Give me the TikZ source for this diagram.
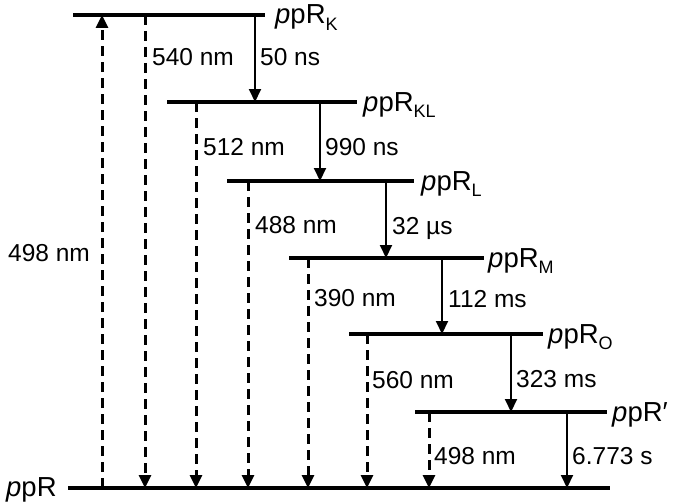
\documentclass[tikz,border=0pt]{standalone}
\usepackage{fontspec}
\setmainfont{Liberation Sans}
\usetikzlibrary{arrows.meta}
\newcommand\lvsub[1]{\raisebox{-6pt}{\fontsize{18}{18}\selectfont #1}}
\begin{document}
\begin{tikzpicture}[x=1pt,y=-1pt,
  lvl/.style={line width=3.4pt},
  sarr/.style={line width=2pt,-{Triangle[width=12pt,length=13pt]}},
  darr/.style={line width=3pt,dash pattern=on 10pt off 6pt,-{Triangle[width=12pt,length=13pt]}},
  lab/.style={anchor=base west,inner sep=0pt,font=\fontsize{24.5}{25}\selectfont},
  st/.style={anchor=base west,inner sep=0pt,font=\fontsize{27.5}{28}\selectfont}]
\useasboundingbox (0,0) rectangle (674,503);
% levels
\coordinate (K1) at (73,15);   \coordinate (K2) at (265,15);
\coordinate (KL1) at (167,102); \coordinate (KL2) at (357,102);
\coordinate (L1) at (227,181); \coordinate (L2) at (414,181);
\coordinate (M1) at (289,258); \coordinate (M2) at (484,258);
\coordinate (O1) at (349,334); \coordinate (O2) at (543,334);
\coordinate (P1) at (415,412); \coordinate (P2) at (607,412);
\coordinate (G1) at (68,488);  \coordinate (G2) at (610,488);
\foreach \a/\b in {K1/K2,KL1/KL2,L1/L2,M1/M2,O1/O2,P1/P2,G1/G2}
  \draw[lvl] (\a) -- (\b);
% state labels
\node[st] (sK) at (275,24) {\textit{p}pR\lvsub{K}};
\node[st] (sKL) at (363,111) {\textit{p}pR\lvsub{KL}};
\node[st] (sL) at (421,190) {\textit{p}pR\lvsub{L}};
\node[st] (sM) at (488,267) {\textit{p}pR\lvsub{M}};
\node[st] (sO) at (548,343) {\textit{p}pR\lvsub{O}};
\node[st] (sP) at (612,421) {\textit{p}pR′};
\node[st] (sG) at (6,496) {\textit{p}pR};
% arrow end points
\coordinate (a0t) at (102,15);  \coordinate (a0b) at (102,488);
\coordinate (a1t) at (145,15);  \coordinate (a1b) at (145,488);
\coordinate (a2t) at (196,102); \coordinate (a2b) at (196,488);
\coordinate (a3t) at (248,181); \coordinate (a3b) at (248,488);
\coordinate (a4t) at (308,258); \coordinate (a4b) at (308,488);
\coordinate (a5t) at (367,334); \coordinate (a5b) at (367,488);
\coordinate (a6t) at (429,412); \coordinate (a6b) at (429,488);
\coordinate (s1t) at (255,15);  \coordinate (s1b) at (255,102);
\coordinate (s2t) at (320,102); \coordinate (s2b) at (320,181);
\coordinate (s3t) at (386,181); \coordinate (s3b) at (386,258);
\coordinate (s4t) at (442,258); \coordinate (s4b) at (442,334);
\coordinate (s5t) at (511,334); \coordinate (s5b) at (511,412);
\coordinate (s6t) at (567,412); \coordinate (s6b) at (567,488);
% dashed (light) arrows
\draw[darr] (a0b) -- (a0t);
\foreach \i in {1,...,6} \draw[darr] (a\i t) -- (a\i b);
% solid (thermal) arrows
\foreach \i in {1,...,6} \draw[sarr] (s\i t) -- (s\i b);
% labels
\node[lab] (l0) at (8,261) {498 nm};
\node[lab] (l1) at (152,65.5) {540 nm};
\node[lab] (t1) at (260,65.5) {50 ns};
\node[lab] (l2) at (203,155) {512 nm};
\node[lab] (t2) at (325,155) {990 ns};
\node[lab] (l3) at (255,233) {488 nm};
\node[lab] (t3) at (392,234) {32 µs};
\node[lab] (l4) at (314,306) {390 nm};
\node[lab] (t4) at (448,307) {112 ms};
\node[lab] (l5) at (372,388) {560 nm};
\node[lab] (t5) at (516,387) {323 ms};
\node[lab] (l6) at (434,464) {498 nm};
\node[lab] (t6) at (572,464) {6.773 s};
\end{tikzpicture}
\end{document}
